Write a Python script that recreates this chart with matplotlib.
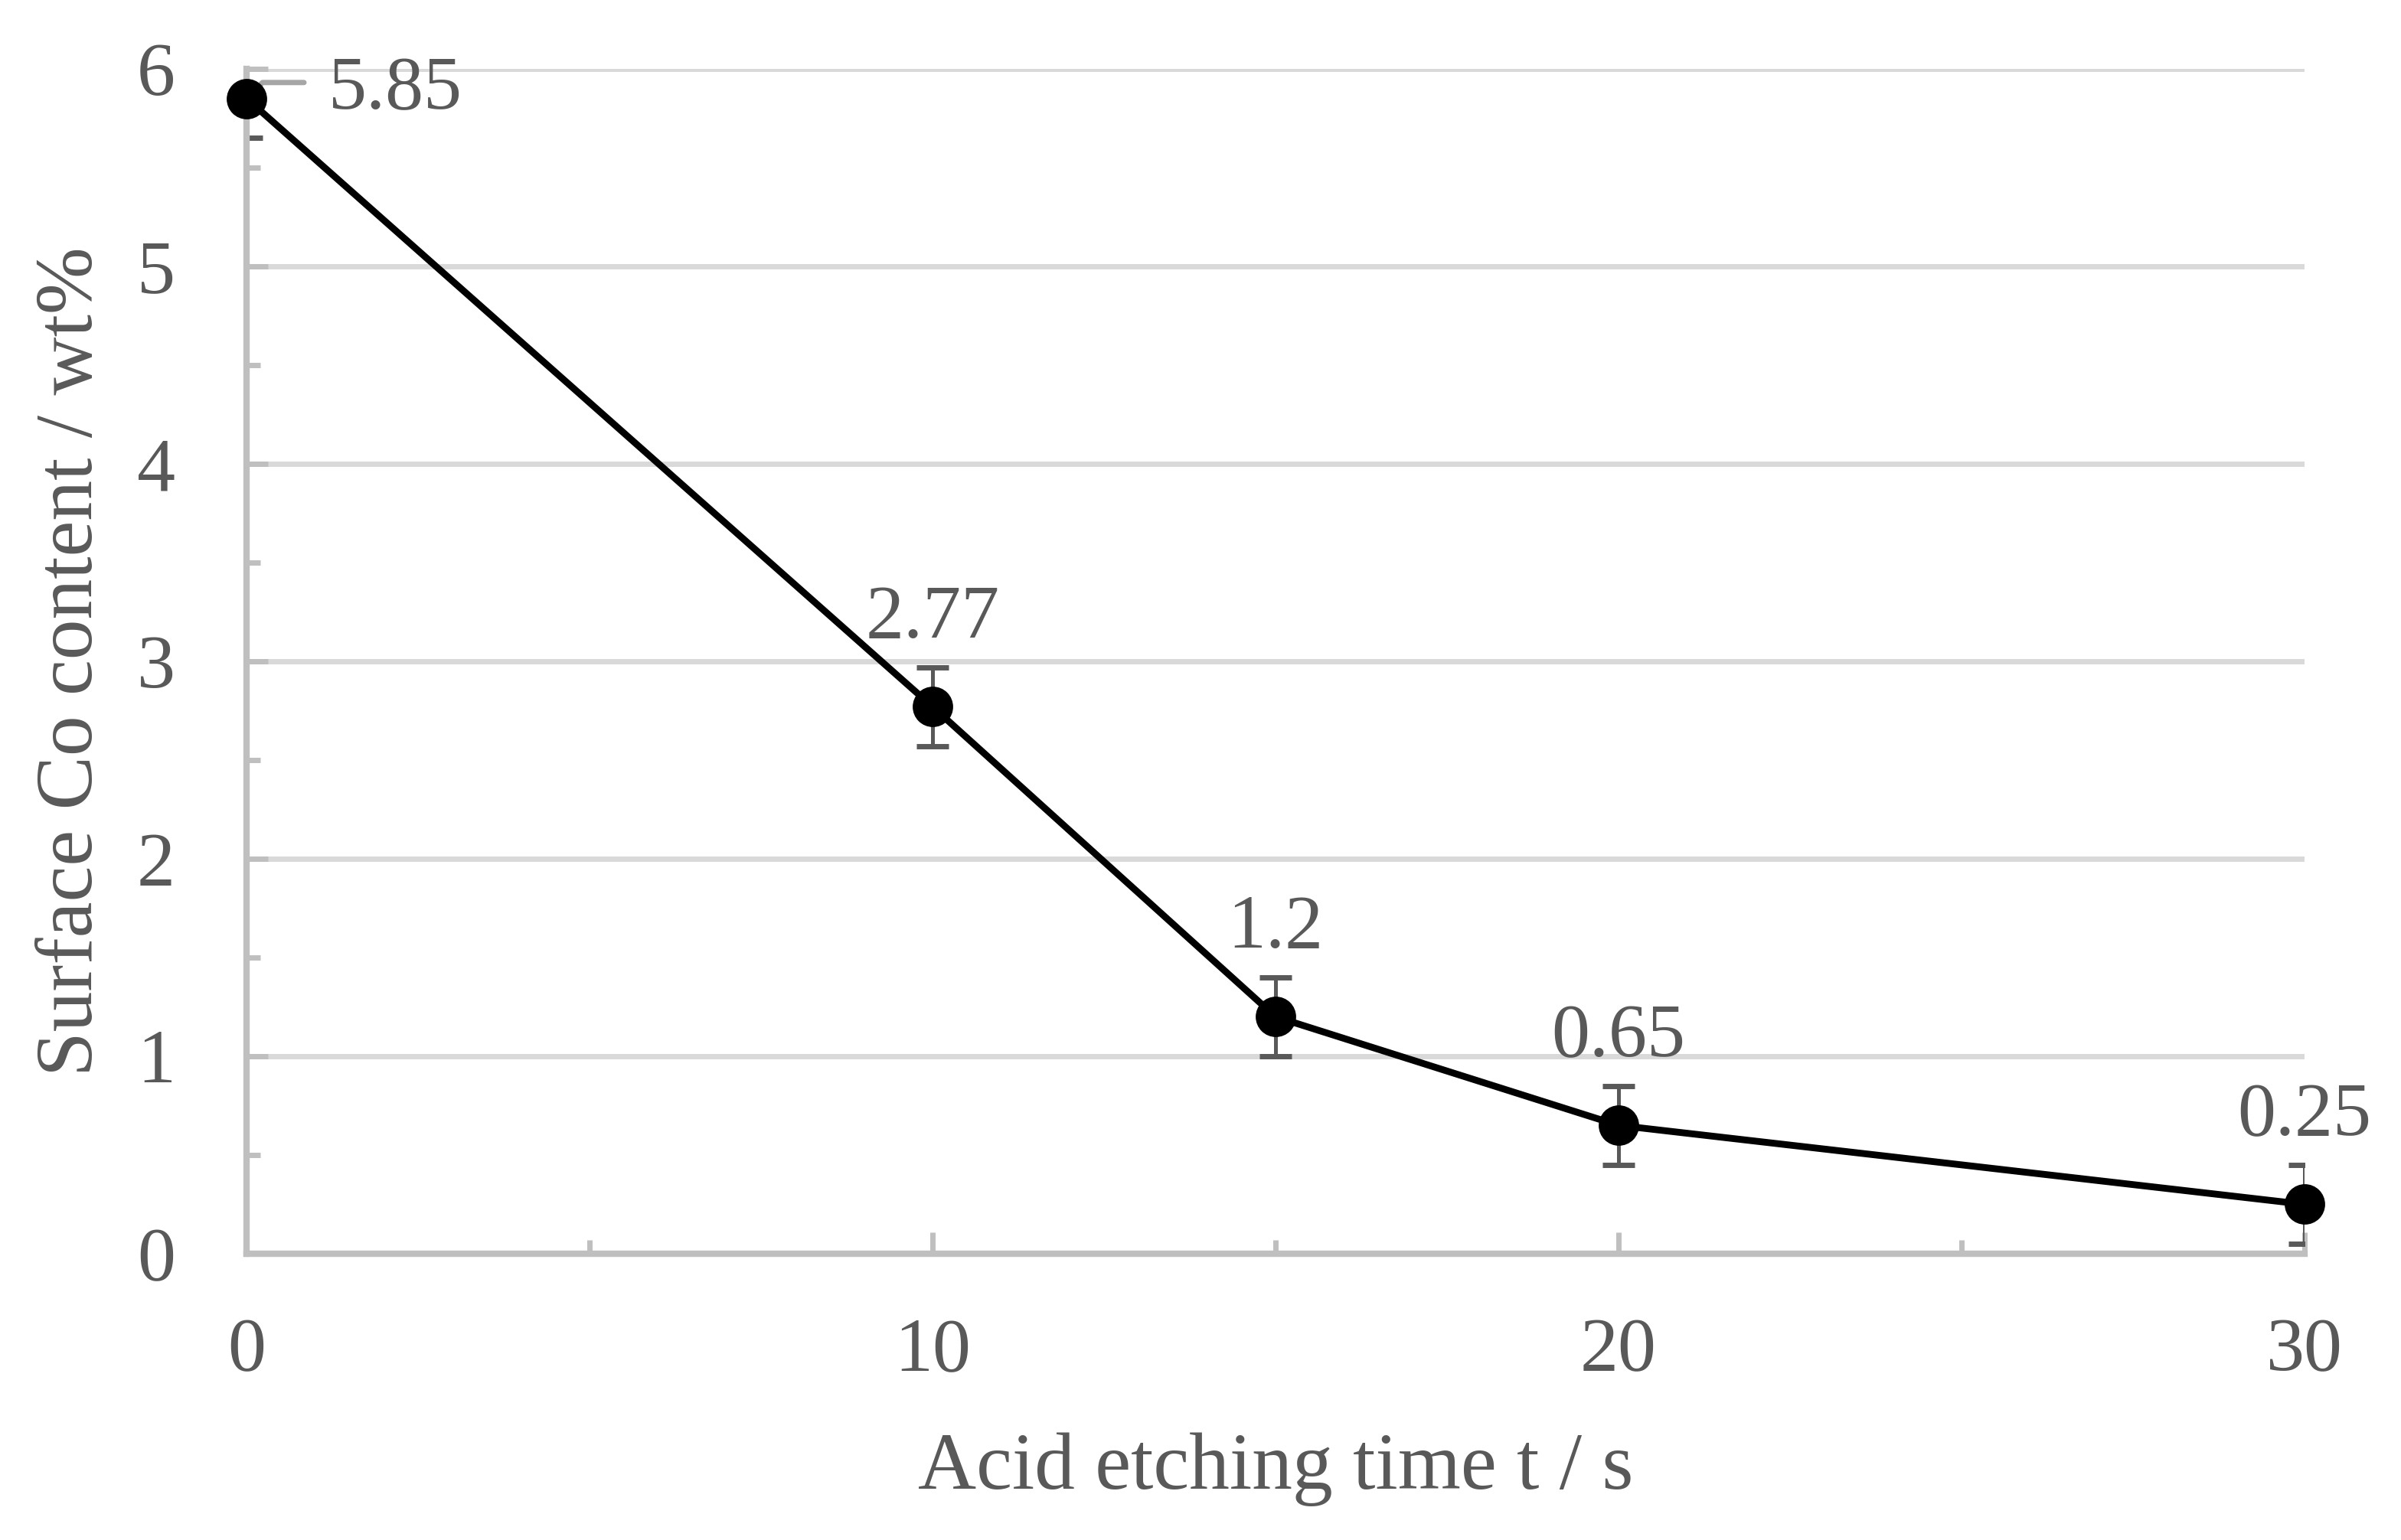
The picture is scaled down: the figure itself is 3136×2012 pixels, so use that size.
import matplotlib
matplotlib.use("Agg")
import matplotlib.pyplot as plt
from matplotlib.ticker import MultipleLocator, FixedLocator

# ---- data ----
etch_time = [0, 10, 15, 20, 30]
co_content = [5.85, 2.77, 1.2, 0.65, 0.25]
co_error = [0.2, 0.2, 0.2, 0.2, 0.2]
point_labels = ["5.85", "2.77", "1.2", "0.65", "0.25"]
x_ticks = [0, 10, 20, 30]
y_ticks = [0, 1, 2, 3, 4, 5, 6]
x_label = "Acid etching time t / s"
y_label = "Surface Co content / wt%"

TXT = "#595959"
AX = "#bfbfbf"
GRID = "#d9d9d9"
FS = 36
FS_LAB = 38

plt.rcParams["font.family"] = ["Liberation Serif", "DejaVu Serif"]

fig = plt.figure(figsize=(15.68, 10.06), dpi=200)
ax = fig.add_axes([0.1027, 0.1859, 0.8571, 0.7694])

ax.set_xlim(0, 30)
ax.set_ylim(0, 6)

# grid
ax.yaxis.grid(True, which="major", color=GRID, lw=2.5, zorder=0)
ax.set_axisbelow(True)

# error bars (clipped to axes)
ax.errorbar(etch_time, co_content, yerr=co_error, fmt="none",
            ecolor="#595959", elinewidth=1.8, capsize=7.7, capthick=2.5,
            zorder=2)

# line + markers
ax.plot(etch_time, co_content, color="black", lw=3.2, marker="o",
        markersize=18, markerfacecolor="black", markeredgecolor="black",
        zorder=3, clip_on=False)

# data labels
for i, (x, y, s) in enumerate(zip(etch_time, co_content, point_labels)):
    if i == 0:
        ax.annotate("", xy=(x, y), xytext=(27, 7.5), textcoords="offset points",
                    arrowprops=dict(arrowstyle="-", color="#a6a6a6", lw=2.5,
                                    shrinkA=0, shrinkB=0,
                                    connectionstyle="angle,angleA=0,angleB=45,rad=0"),
                    zorder=2.5)
        ax.annotate(s, xy=(x, y), xytext=(38.5, -4.7), textcoords="offset points",
                    ha="left", va="baseline", fontsize=FS, color=TXT, zorder=4)
    else:
        ax.annotate(s, xy=(x, y), xytext=(0, 32.4), textcoords="offset points",
                    ha="center", va="baseline", fontsize=FS, color=TXT, zorder=4)

# spines
for sp in ["top", "right"]:
    ax.spines[sp].set_visible(False)
for sp in ["left", "bottom"]:
    ax.spines[sp].set_color(AX)
    ax.spines[sp].set_linewidth(3)

# ticks
ax.xaxis.set_major_locator(FixedLocator(x_ticks))
ax.xaxis.set_minor_locator(MultipleLocator(5))
ax.yaxis.set_major_locator(FixedLocator(y_ticks))
ax.yaxis.set_minor_locator(MultipleLocator(0.5))
ax.tick_params(axis="both", which="major", direction="in", length=10, width=2.5,
               color=AX, labelcolor=TXT, labelsize=FS)
ax.tick_params(axis="both", which="minor", direction="in", length=6.5, width=2.5,
               color=AX)
ax.tick_params(axis="x", which="major", pad=30)
ax.tick_params(axis="y", which="major", pad=33.5)

# axis labels
ax.set_xlabel(x_label, fontsize=FS_LAB, color=TXT)
ax.xaxis.label.set_va("baseline")
ax.xaxis.set_label_coords(0.5, -(1945 - 1638) / 1548)
ax.set_ylabel(y_label, fontsize=FS_LAB, color=TXT)
ax.yaxis.label.set_va("center")
ax.yaxis.set_label_coords((95 - 322) / 2688, 0.5)

fig.savefig("out.png", dpi=200, facecolor="white")
